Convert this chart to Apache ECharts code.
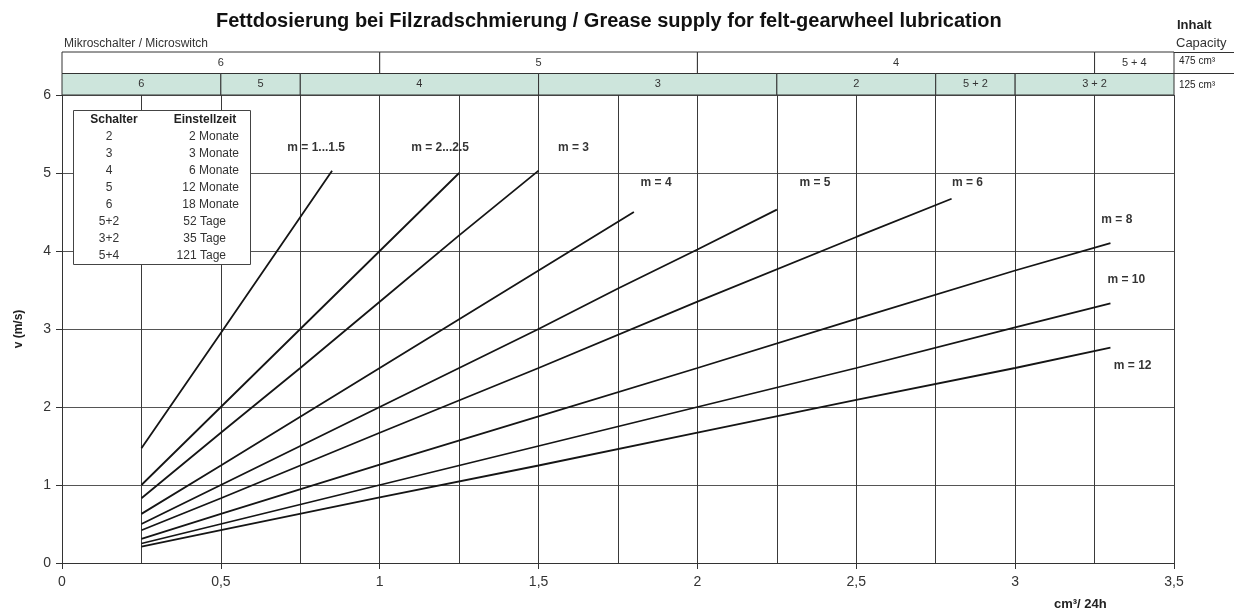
<!DOCTYPE html>
<html>
<head>
<meta charset="utf-8">
<script src="https://cdn.jsdelivr.net/npm/echarts@6/dist/echarts.min.js"></script>
<style>
  html, body { margin: 0; padding: 0; background: #fff; }
  #chart { width: 1234px; height: 616px; }
</style>
</head>
<body>
<div id="chart"></div>
<script>
// grease supply curves, one per module m (x = cm3/24h, y = v in m/s)
const mNames = ['m = 1...1.5', 'm = 2...2.5', 'm = 3', 'm = 4', 'm = 5', 'm = 6', 'm = 8', 'm = 10', 'm = 12'];
const curveM1 = [[0.25, 1.47], [0.5, 2.95], [0.85, 5.03]];
const curveM2 = [[0.25, 1.0], [0.5, 2.0], [0.75, 3.0], [1.0, 4.0], [1.25, 5.0]];
const curveM3 = [[0.25, 0.83], [0.5, 1.67], [0.75, 2.5], [1.0, 3.35], [1.25, 4.2], [1.5, 5.03]];
const curveM4 = [[0.25, 0.63], [0.5, 1.25], [1.0, 2.5], [1.5, 3.75], [1.8, 4.5]];
const curveM5 = [[0.25, 0.5], [0.5, 1.0], [1.0, 2.0], [1.5, 3.0], [1.75, 3.52], [2.0, 4.02], [2.25, 4.53]];
const curveM6 = [[0.25, 0.42], [0.5, 0.83], [1.0, 1.67], [1.5, 2.5], [2.0, 3.35], [2.5, 4.18], [2.8, 4.67]];
const curveM8 = [[0.25, 0.31], [0.5, 0.63], [1.0, 1.26], [1.5, 1.88], [2.0, 2.5], [2.5, 3.13], [3.0, 3.75], [3.3, 4.1]];
const curveM10 = [[0.25, 0.25], [0.5, 0.5], [1.0, 1.0], [1.5, 1.5], [2.0, 2.0], [2.5, 2.5], [3.0, 3.02], [3.3, 3.33]];
const curveM12 = [[0.25, 0.21], [0.5, 0.42], [1.0, 0.84], [1.5, 1.25], [2.0, 1.67], [2.5, 2.09], [3.0, 2.5], [3.3, 2.76]];
const curves = [curveM1, curveM2, curveM3, curveM4, curveM5, curveM6, curveM8, curveM10, curveM12];

// where each m label sits (data coords)
const labelX = [0.80, 1.19, 1.61, 1.87, 2.37, 2.85, 3.32, 3.35, 3.37];
const labelY = [5.32, 5.32, 5.32, 4.87, 4.87, 4.87, 4.40, 3.63, 2.53];

// microswitch bands: [from, to, switch]
const band475 = [[0, 1, '6'], [1, 2, '5'], [2, 3.25, '4'], [3.25, 3.5, '5 + 4']];
const band125 = [[0, 0.5, '6'], [0.5, 0.75, '5'], [0.75, 1.5, '4'], [1.5, 2.25, '3'], [2.25, 2.75, '2'], [2.75, 3, '5 + 2'], [3, 3.5, '3 + 2']];
const capacities = ['475 cm³', '125 cm³'];

// switch table
const tableSwitch = ['2', '3', '4', '5', '6', '5+2', '3+2', '5+4'];
const tableTime = ['2 Monate', '3 Monate', '6 Monate', '12 Monate', '18 Monate', '52 Tage', '35 Tage', '121 Tage'];

const xTicks = ['0', '0,5', '1', '1,5', '2', '2,5', '3', '3,5'];

const FONT = 'Arial, "Liberation Sans", sans-serif';
const chart = echarts.init(document.getElementById('chart'));

const bandData = [];
band475.forEach(b => bandData.push([b[0], b[1], 1, b[2], '#ffffff']));
band125.forEach(b => bandData.push([b[0], b[1], 0, b[2], '#cde5dc']));

const lineSeries = curves.map((c, i) => ({
  name: mNames[i],
  type: 'line',
  data: c,
  symbol: 'none',
  lineStyle: { color: '#151515', width: 1.8 },
  z: 5,
  silent: true
}));

const labelSeries = {
  type: 'scatter',
  data: labelX.map((x, i) => [x, labelY[i], mNames[i]]),
  symbolSize: 0,
  label: {
    show: true, position: 'inside',
    formatter: p => p.data[2],
    fontFamily: FONT, fontWeight: 'bold', fontSize: 12, color: '#000'
  },
  z: 6,
  silent: true
};

const bandSeries = {
  type: 'custom',
  xAxisIndex: 1, yAxisIndex: 1,
  data: bandData,
  renderItem: (params, api) => {
    const p0 = api.coord([api.value(0), api.value(2) + 1]);
    const p1 = api.coord([api.value(1), api.value(2)]);
    const d = bandData[params.dataIndex];
    return {
      type: 'group',
      children: [
        { type: 'rect', shape: { x: p0[0], y: p0[1], width: p1[0] - p0[0], height: p1[1] - p0[1] },
          style: { fill: d[4], stroke: '#333', lineWidth: 1 } },
        { type: 'text', style: { text: d[3], x: (p0[0] + p1[0]) / 2, y: (p0[1] + p1[1]) / 2,
          align: 'center', verticalAlign: 'middle', font: '11px ' + FONT, fill: '#333' } }
      ]
    };
  },
  silent: true
};

// table graphic (drawn on top of the grid)
const tableChildren = [
  { type: 'rect', z: 100, shape: { x: 73.5, y: 110.5, width: 177, height: 154 }, style: { fill: '#fff', stroke: '#444', lineWidth: 1 } },
  { type: 'text', z: 101, style: { text: 'Schalter', x: 114, y: 120, align: 'center', verticalAlign: 'middle', font: 'bold 12px ' + FONT, fill: '#222' } },
  { type: 'text', z: 101, style: { text: 'Einstellzeit', x: 205, y: 120, align: 'center', verticalAlign: 'middle', font: 'bold 12px ' + FONT, fill: '#222' } }
];
tableSwitch.forEach((s, i) => {
  const y = 137 + i * 17;
  tableChildren.push({ type: 'text', z: 101, style: { text: s, x: 109, y: y, align: 'center', verticalAlign: 'middle', font: '12px ' + FONT, fill: '#333' } });
  const t = tableTime[i];
  tableChildren.push({ type: 'text', z: 101, style: { text: t, x: t.endsWith('Tage') ? 226 : 239, y: y, align: 'right', verticalAlign: 'middle', font: '12px ' + FONT, fill: '#333' } });
});

chart.setOption({
  backgroundColor: '#fff',
  animation: false,
  title: {
    text: 'Fettdosierung bei Filzradschmierung / Grease supply for felt-gearwheel lubrication',
    left: 211, top: 6,
    textStyle: { fontFamily: FONT, fontWeight: 'bold', fontSize: 20, color: '#111' }
  },
  grid: [
    { left: 62, right: 60, top: 95, bottom: 53 },
    { left: 62, right: 60, top: 52, height: 43 }
  ],
  xAxis: [
    {
      type: 'value', min: 0, max: 3.5, interval: 0.5,
      axisLine: { show: true, onZero: false, lineStyle: { color: '#333' } },
      axisTick: { show: true, length: 6, lineStyle: { color: '#333' } },
      axisLabel: { margin: 12, fontFamily: FONT, fontSize: 14, color: '#333', formatter: v => xTicks[Math.round(v * 2)] },
      splitLine: { show: true, lineStyle: { color: '#3a3a3a', width: 1 } },
      minorTick: { show: false, splitNumber: 2 },
      minorSplitLine: { show: true, lineStyle: { color: '#3a3a3a', width: 1 } }
    },
    { gridIndex: 1, type: 'value', min: 0, max: 3.5, show: false }
  ],
  yAxis: [
    {
      type: 'value', min: 0, max: 6, interval: 1,
      name: 'v (m/s)', nameLocation: 'middle', nameGap: 37,
      nameTextStyle: { fontFamily: FONT, fontWeight: 'bold', fontSize: 12, color: '#222' },
      axisLine: { show: true, lineStyle: { color: '#333' } },
      axisTick: { show: true, length: 6, lineStyle: { color: '#333' } },
      axisLabel: { margin: 11, fontFamily: FONT, fontSize: 14, color: '#333' },
      splitLine: { show: true, lineStyle: { color: '#555', width: 1 } }
    },
    { gridIndex: 1, type: 'value', min: 0, max: 2, show: false }
  ],
  series: [bandSeries, ...lineSeries, labelSeries],
  graphic: [
    { type: 'text', left: 64, top: 38, style: { text: 'Mikroschalter / Microswitch', font: '12px ' + FONT, fill: '#333' } },
    { type: 'text', left: 1177, top: 19, style: { text: 'Inhalt', font: 'bold 13px ' + FONT, fill: '#222' } },
    { type: 'text', left: 1176, top: 37, style: { text: 'Capacity', font: '13px ' + FONT, fill: '#333' } },
    { type: 'line', shape: { x1: 1174, y1: 52.5, x2: 1234, y2: 52.5 }, style: { stroke: '#333', lineWidth: 1 } },
    { type: 'line', shape: { x1: 1174, y1: 73.5, x2: 1234, y2: 73.5 }, style: { stroke: '#333', lineWidth: 1 } },
    { type: 'text', left: 1179, top: 56, style: { text: capacities[0], font: '10px ' + FONT, fill: '#222' } },
    { type: 'text', left: 1179, top: 80, style: { text: capacities[1], font: '10px ' + FONT, fill: '#222' } },
    { type: 'text', left: 1054, top: 598, style: { text: 'cm³/ 24h', font: 'bold 13px ' + FONT, fill: '#222' } },
    { type: 'group', children: tableChildren }
  ]
});
</script>
</body>
</html>
